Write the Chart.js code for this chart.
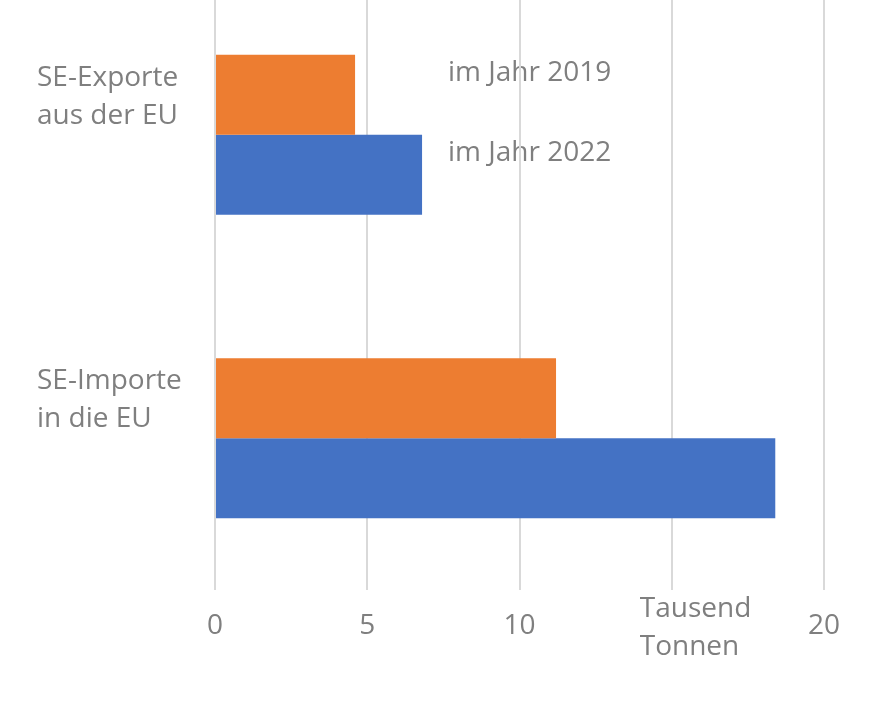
<!DOCTYPE html>
<html>
<head>
<meta charset="utf-8">
<script src="https://cdn.jsdelivr.net/npm/chart.js@4/dist/chart.umd.min.js"></script>
<style>
  html, body { margin: 0; padding: 0; background: #fff; }
  #wrap { position: relative; width: 892px; height: 705px; overflow: hidden; }
  #chart { position: absolute; left: 0; top: -17px; }
</style>
</head>
<body>
<div id="wrap"><canvas id="chart" width="892" height="722"></canvas></div>
<script>
// categories (top to bottom)
const categories = [['SE-Exporte', 'aus der EU'], ['SE-Importe', 'in die EU']];
// thousand tonnes
const values2019 = [4.6, 11.2];
const values2022 = [6.8, 18.4];
const seriesNames = ['im Jahr 2019', 'im Jahr 2022'];
const xTicks = [0, 5, 10, 15, 20];
const unitLabel = ['Tausend', 'Tonnen'];

const textColor = '#7f7f7f';
const fontFamily = '"Open Sans", sans-serif';

// series names drawn next to the first bars, under the grid like the original
const seriesText = {
  id: 'seriesText',
  beforeDraw(chart) {
    const ctx = chart.ctx;
    const x = chart.scales.x.getPixelForValue(7.65);
    ctx.save();
    ctx.font = '28px ' + fontFamily;
    ctx.fillStyle = textColor;
    ctx.textAlign = 'left';
    ctx.textBaseline = 'middle';
    chart.data.datasets.forEach((ds, i) => {
      const bar = chart.getDatasetMeta(i).data[0];
      ctx.fillText(ds.label, x, bar.y - 22);
    });
    ctx.restore();
  },
  afterDraw(chart) {
    // unit label sits in place of the 15 tick
    const xs = chart.scales.x;
    const ctx = chart.ctx;
    const x = xs.getPixelForValue(15) - 32;
    const mid = xs.top + 19 + 19;
    ctx.save();
    ctx.font = '28px ' + fontFamily;
    ctx.fillStyle = textColor;
    ctx.textAlign = 'left';
    ctx.textBaseline = 'middle';
    ctx.fillText(unitLabel[0], x, mid - 19);
    ctx.fillText(unitLabel[1], x, mid + 19);
    ctx.restore();
  }
};

new Chart(document.getElementById('chart'), {
  type: 'bar',
  data: {
    labels: categories,
    datasets: [
      {
        label: seriesNames[0],
        data: values2019,
        backgroundColor: '#ED7D31',
        barPercentage: 1,
        categoryPercentage: 0.527
      },
      {
        label: seriesNames[1],
        data: values2022,
        backgroundColor: '#4472C4',
        barPercentage: 1,
        categoryPercentage: 0.527
      }
    ]
  },
  options: {
    indexAxis: 'y',
    responsive: false,
    animation: false,
    layout: { padding: { left: 37, right: 68, top: 0, bottom: 0 } },
    plugins: {
      legend: { display: false },
      tooltip: { enabled: false }
    },
    scales: {
      x: {
        min: 0,
        max: 20,
        afterBuildTicks: (scale) => { scale.ticks = xTicks.map(v => ({ value: v })); },
        afterFit: (scale) => { scale.height = 115; },
        grid: { color: '#d9d9d9', lineWidth: 2, drawTicks: false },
        border: { display: false },
        ticks: {
          padding: 19,
          color: textColor,
          font: { family: fontFamily, size: 28 },
          callback: (v) => (v === 15 ? '' : v)
        }
      },
      y: {
        afterFit: (scale) => {
          scale.width = 178;
          scale.paddingTop = 0;
          scale.paddingBottom = 0;
        },
        grid: { display: false },
        border: { display: false },
        ticks: {
          crossAlign: 'far',
          labelOffset: -38,
          color: textColor,
          font: { family: fontFamily, size: 28, lineHeight: 1.36 }
        }
      }
    }
  },
  plugins: [seriesText]
});
</script>
</body>
</html>
